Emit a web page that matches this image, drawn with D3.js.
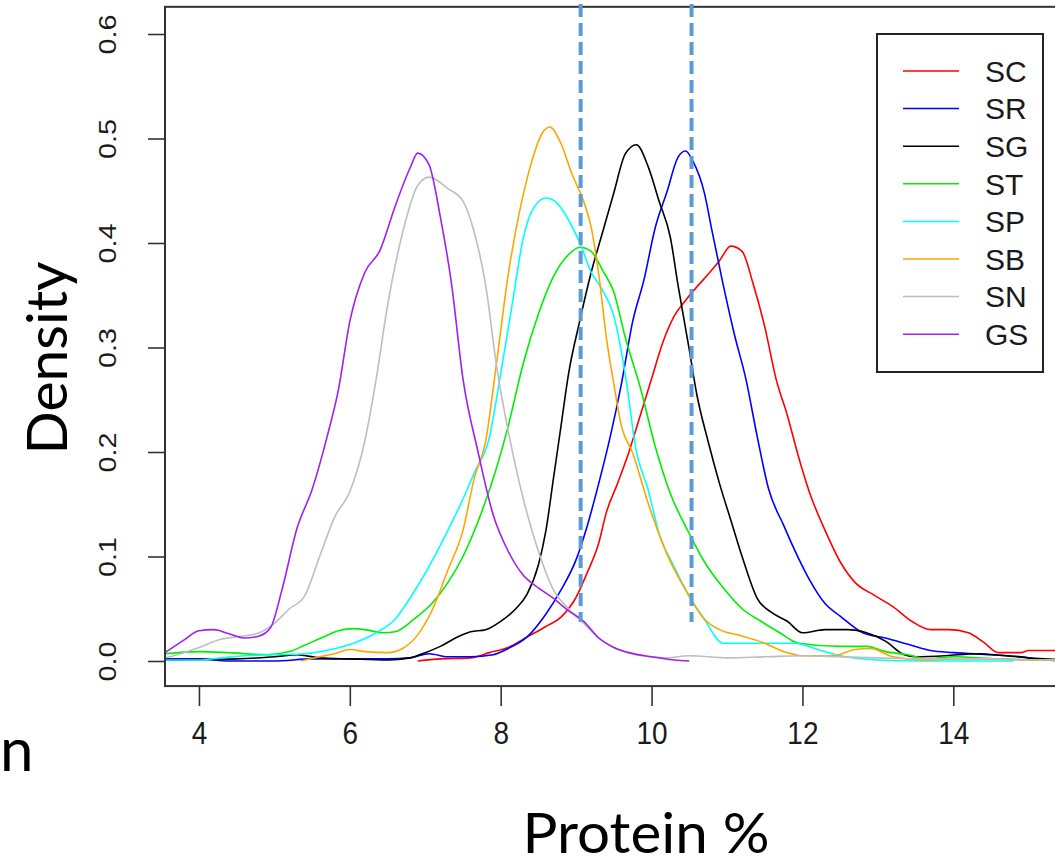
<!DOCTYPE html>
<html>
<head>
<meta charset="utf-8">
<script src="https://cdn.jsdelivr.net/npm/d3@7"></script>
<style>
  html, body { margin: 0; padding: 0; background: #fff; }
  svg { display: block; }
  .tick-lab { font-family: "Liberation Sans", Arial, sans-serif; fill: #1a1a1a; }
  .big { font-family: Lato, "Open Sans", sans-serif; fill: #000; }
</style>
</head>
<body>
<div id="chart"></div>
<script>
// series (R density curves), [protein %, density]
var names = ["SC", "SR", "SG", "ST", "SP", "SB", "SN", "GS"];
var colors = ["#ff0000", "#0000ff", "#000000", "#00ee00", "#00ffff", "#ffa500", "#bebebe", "#a020f0"];

var SC = [[6.9,0],[7.2,0.002],[7.6,0.003],[7.85,0.008],[8.1,0.013],[8.35,0.023],[8.6,0.033],[8.8,0.042],
  [9.0,0.061],[9.15,0.085],[9.3,0.113],[9.4,0.142],[9.55,0.17],[9.7,0.2],[9.85,0.235],[10.0,0.27],
  [10.15,0.305],[10.3,0.33],[10.45,0.345],[10.6,0.358],[10.75,0.37],[10.9,0.383],[11.05,0.397],
  [11.2,0.392],[11.35,0.36],[11.5,0.32],[11.65,0.27],[11.8,0.235],[11.95,0.195],[12.1,0.16],
  [12.3,0.125],[12.5,0.095],[12.7,0.075],[12.95,0.063],[13.2,0.052],[13.45,0.038],[13.7,0.03],
  [13.95,0.03],[14.2,0.027],[14.4,0.018],[14.6,0.008],[14.9,0.008],[15.0,0.01],[15.6,0.01]];

var SR = [[3.55,0.002],[4.0,0.002],[4.4,0],[5.0,0],[5.5,0.002],[6.0,0.002],[6.5,0.002],[6.8,0.003],
  [7.05,0.007],[7.3,0.004],[7.6,0.004],[7.9,0.006],[8.1,0.012],[8.35,0.023],[8.6,0.045],[8.8,0.068],
  [9.0,0.097],[9.15,0.13],[9.3,0.17],[9.45,0.214],[9.6,0.265],[9.75,0.325],[9.9,0.365],[10.05,0.415],
  [10.2,0.448],[10.35,0.482],[10.45,0.488],[10.55,0.478],[10.7,0.448],[10.8,0.412],[10.95,0.36],
  [11.1,0.312],[11.25,0.27],[11.4,0.215],[11.55,0.165],[11.75,0.13],[11.95,0.098],[12.1,0.077],
  [12.3,0.055],[12.5,0.043],[12.8,0.027],[13.1,0.022],[13.4,0.016],[13.7,0.01],[14.0,0.008],
  [14.5,0.006],[14.9,0.004],[15.2,0.001],[15.6,0]];

var SG = [[3.55,0.001],[4.5,0.002],[5.0,0.004],[5.3,0.006],[5.6,0.003],[6.0,0.002],[6.5,0.001],
  [6.8,0.003],[7.0,0.008],[7.2,0.014],[7.4,0.022],[7.6,0.028],[7.8,0.03],[8.0,0.038],[8.2,0.05],
  [8.35,0.064],[8.5,0.092],[8.6,0.125],[8.7,0.175],[8.8,0.225],[8.9,0.275],[9.05,0.326],[9.2,0.372],
  [9.35,0.41],[9.5,0.448],[9.65,0.485],[9.8,0.494],[9.95,0.474],[10.1,0.44],[10.25,0.405],[10.35,0.36],
  [10.5,0.298],[10.6,0.255],[10.75,0.21],[10.9,0.17],[11.05,0.135],[11.2,0.1],[11.4,0.06],[11.6,0.046],
  [11.8,0.038],[12.0,0.027],[12.3,0.03],[12.6,0.03],[12.85,0.027],[13.1,0.019],[13.35,0.006],
  [13.5,0.004],[13.9,0.005],[14.3,0.007],[14.7,0.005],[15.2,0.002],[15.6,0.001]];

var ST = [[3.55,0.007],[4.0,0.009],[4.4,0.008],[4.9,0.006],[5.2,0.009],[5.4,0.015],[5.65,0.023],
  [5.85,0.029],[6.05,0.031],[6.2,0.03],[6.45,0.027],[6.6,0.028],[6.85,0.04],[7.1,0.056],[7.3,0.075],
  [7.5,0.1],[7.75,0.143],[7.95,0.186],[8.1,0.225],[8.3,0.285],[8.5,0.332],[8.7,0.368],[8.9,0.389],
  [9.05,0.396],[9.2,0.392],[9.35,0.374],[9.5,0.353],[9.65,0.31],[9.85,0.262],[10.05,0.205],[10.25,0.16],
  [10.5,0.122],[10.7,0.095],[10.95,0.07],[11.2,0.05],[11.45,0.038],[11.7,0.027],[11.95,0.017],
  [12.5,0.014],[12.85,0.014],[13.1,0.009],[13.4,0.006],[13.65,0.002],[14.0,0.004],[14.6,0.002],
  [15.2,0.001],[15.6,0.001]];

var SP = [[3.55,0.001],[4.0,0.001],[4.3,0.003],[4.6,0.005],[5.0,0.006],[5.4,0.007],[5.75,0.011],
  [6.05,0.017],[6.35,0.027],[6.6,0.04],[6.85,0.066],[7.1,0.097],[7.3,0.125],[7.5,0.155],[7.65,0.18],
  [7.85,0.214],[8.0,0.275],[8.15,0.34],[8.3,0.405],[8.45,0.435],[8.6,0.443],[8.75,0.438],[8.9,0.422],
  [9.05,0.4],[9.2,0.372],[9.35,0.355],[9.5,0.33],[9.65,0.275],[9.8,0.2],[9.95,0.165],[10.1,0.122],
  [10.3,0.09],[10.5,0.062],[10.7,0.04],[10.95,0.017],[11.5,0.017],[11.9,0.017],[12.2,0.011],
  [12.5,0.005],[13.0,0.001],[13.5,0],[14.0,0],[14.5,0],[14.8,0]];

var SB = [[5.35,0],[5.6,0.004],[5.8,0.007],[6.0,0.011],[6.2,0.009],[6.5,0.008],[6.7,0.012],[6.9,0.025],
  [7.1,0.05],[7.3,0.087],[7.5,0.125],[7.65,0.175],[7.8,0.21],[7.95,0.288],[8.1,0.37],[8.25,0.43],
  [8.4,0.475],[8.55,0.505],[8.65,0.511],[8.8,0.495],[8.95,0.465],[9.1,0.44],[9.2,0.415],[9.3,0.37],
  [9.4,0.31],[9.5,0.265],[9.6,0.225],[9.75,0.199],[9.95,0.152],[10.2,0.103],[10.45,0.068],[10.7,0.04],
  [10.9,0.03],[11.2,0.024],[11.5,0.017],[11.75,0.009],[12.0,0.005],[12.4,0.005],[12.7,0.011],
  [12.9,0.012],[13.2,0.004],[13.6,0.001],[14.0,0.002],[14.5,0.002],[15.0,0.001],[15.6,0.002]];

var SN = [[3.55,0.003],[3.8,0.008],[4.0,0.013],[4.3,0.021],[4.6,0.024],[4.8,0.027],[5.0,0.036],
  [5.2,0.05],[5.4,0.062],[5.6,0.1],[5.8,0.138],[6.0,0.162],[6.2,0.211],[6.35,0.27],[6.5,0.34],
  [6.7,0.41],[6.9,0.455],[7.05,0.463],[7.3,0.452],[7.5,0.44],[7.65,0.41],[7.8,0.36],[7.95,0.28],
  [8.1,0.22],[8.3,0.155],[8.5,0.105],[8.7,0.068],[8.9,0.05],[9.1,0.036],[9.3,0.022],[9.5,0.013],
  [9.8,0.006],[10.2,0.003],[10.5,0.005],[11.0,0.003],[11.5,0.004],[12.0,0.005],[12.5,0.004],
  [13.0,0.003],[13.5,0.002],[14.0,0.002],[14.5,0.002],[15.0,0.001],[15.6,0.001]];

var GS = [[3.55,0.008],[3.8,0.02],[4.0,0.029],[4.2,0.03],[4.4,0.026],[4.6,0.022],[4.8,0.024],
  [4.95,0.032],[5.1,0.068],[5.3,0.127],[5.5,0.164],[5.7,0.215],[5.85,0.26],[6.0,0.325],[6.2,0.372],
  [6.4,0.393],[6.6,0.435],[6.8,0.472],[6.9,0.486],[7.05,0.475],[7.2,0.425],[7.35,0.36],[7.5,0.27],
  [7.7,0.2],[7.9,0.14],[8.1,0.105],[8.3,0.082],[8.5,0.07],[8.7,0.06],[8.9,0.048],[9.1,0.038],
  [9.3,0.022],[9.5,0.013],[9.7,0.008],[10.0,0.004],[10.3,0.001],[10.5,0]];

var series = [SC, SR, SG, ST, SP, SB, SN, GS];
var xTicks = [4, 6, 8, 10, 12, 14];
var yTicks = [0, 0.1, 0.2, 0.3, 0.4, 0.5, 0.6];
var cutoffs = [9.06, 10.53];   // dashed reference lines

var W = 1055, H = 862;
var svg = d3.select('#chart').append('svg').attr('width', W).attr('height', H);

// plot region (right side runs off the picture)
var x = d3.scaleLinear().domain([3.55, 15.6]).range([165, 1074]);
var y = d3.scaleLinear().domain([0, 0.6]).range([661, 34]);
var boxTop = y(0.626), boxBot = y(-0.024);

svg.append('clipPath').attr('id', 'clip')
  .append('rect').attr('x', 165).attr('y', boxTop).attr('width', 910).attr('height', boxBot - boxTop);

// y axis
var yAxis = svg.append('g').attr('transform', 'translate(165,0)')
  .call(d3.axisLeft(y).tickValues(yTicks).tickSize(17).tickFormat(d3.format('.1f')));
yAxis.select('.domain').remove();
yAxis.selectAll('line').attr('stroke', '#333').attr('stroke-width', 1.6);
yAxis.selectAll('text').remove();
yAxis.selectAll('.tick').append('text')
  .attr('class', 'tick-lab')
  .attr('transform', 'translate(-57,0) rotate(-90) scale(1.25,1)')
  .attr('text-anchor', 'middle').attr('dy', '0.36em')
  .style('font-size', '23px')
  .text(function(d){ return d3.format('.1f')(d); });

// x axis
var xAxis = svg.append('g').attr('transform', 'translate(0,' + boxBot + ')')
  .call(d3.axisBottom(x).tickValues(xTicks).tickSize(20));
xAxis.select('.domain').remove();
xAxis.selectAll('line').attr('stroke', '#333').attr('stroke-width', 1.6);
xAxis.selectAll('text').remove();
xAxis.selectAll('.tick').append('text')
  .attr('class', 'tick-lab')
  .attr('transform', 'translate(0,58) scale(1,1.15)')
  .attr('text-anchor', 'middle')
  .style('font-size', '28px')
  .text(function(d){ return d; });

// density curves
var line = d3.line()
  .x(function(d){ return x(d[0]); })
  .y(function(d){ return y(d[1]); })
  .curve(d3.curveMonotoneX);

svg.append('g').attr('clip-path', 'url(#clip)')
  .selectAll('path').data(series).enter().append('path')
  .attr('d', line)
  .attr('fill', 'none')
  .attr('stroke', function(d, i){ return colors[i]; })
  .attr('stroke-width', 1.6);

// box
svg.append('rect')
  .attr('x', 165).attr('y', boxTop)
  .attr('width', 940).attr('height', boxBot - boxTop)
  .attr('fill', 'none').attr('stroke', '#333').attr('stroke-width', 2);

// legend
var leg = svg.append('g');
leg.append('rect').attr('x', 877).attr('y', 34).attr('width', 166).attr('height', 338)
  .attr('fill', '#fff').attr('stroke', '#222').attr('stroke-width', 2);
var rows = leg.selectAll('g.row').data(names).enter().append('g')
  .attr('transform', function(d, i){ return 'translate(0,' + (71 + i * 37.6) + ')'; });
rows.append('line').attr('x1', 903).attr('x2', 959)
  .attr('stroke', function(d, i){ return colors[i]; }).attr('stroke-width', 1.5);
rows.append('text').attr('class', 'tick-lab').attr('x', 985).attr('dy', '0.36em')
  .style('font-size', '30px').text(function(d){ return d; });

// dashed lines added on top
svg.selectAll('line.cut').data(cutoffs).enter().append('line')
  .attr('class', 'cut')
  .attr('x1', function(d){ return x(d); }).attr('x2', function(d){ return x(d); })
  .attr('y1', 4).attr('y2', 622)
  .attr('stroke', '#5b9bd5').attr('stroke-width', 4).attr('stroke-dasharray', '13,6');

// axis titles
svg.append('text').attr('class', 'big')
  .attr('transform', 'translate(67,358) rotate(-90)')
  .attr('text-anchor', 'middle').style('font-size', '56px')
  .attr('textLength', 193).attr('lengthAdjust', 'spacingAndGlyphs')
  .text('Density');
svg.append('text').attr('class', 'big')
  .attr('x', 646).attr('y', 853)
  .attr('text-anchor', 'middle').style('font-size', '56px')
  .attr('textLength', 247).attr('lengthAdjust', 'spacingAndGlyphs')
  .text('Protein %');
svg.append('text').attr('class', 'big')
  .attr('x', 0).attr('y', 771).style('font-size', '60px')
  .text('n');
</script>
</body>
</html>
